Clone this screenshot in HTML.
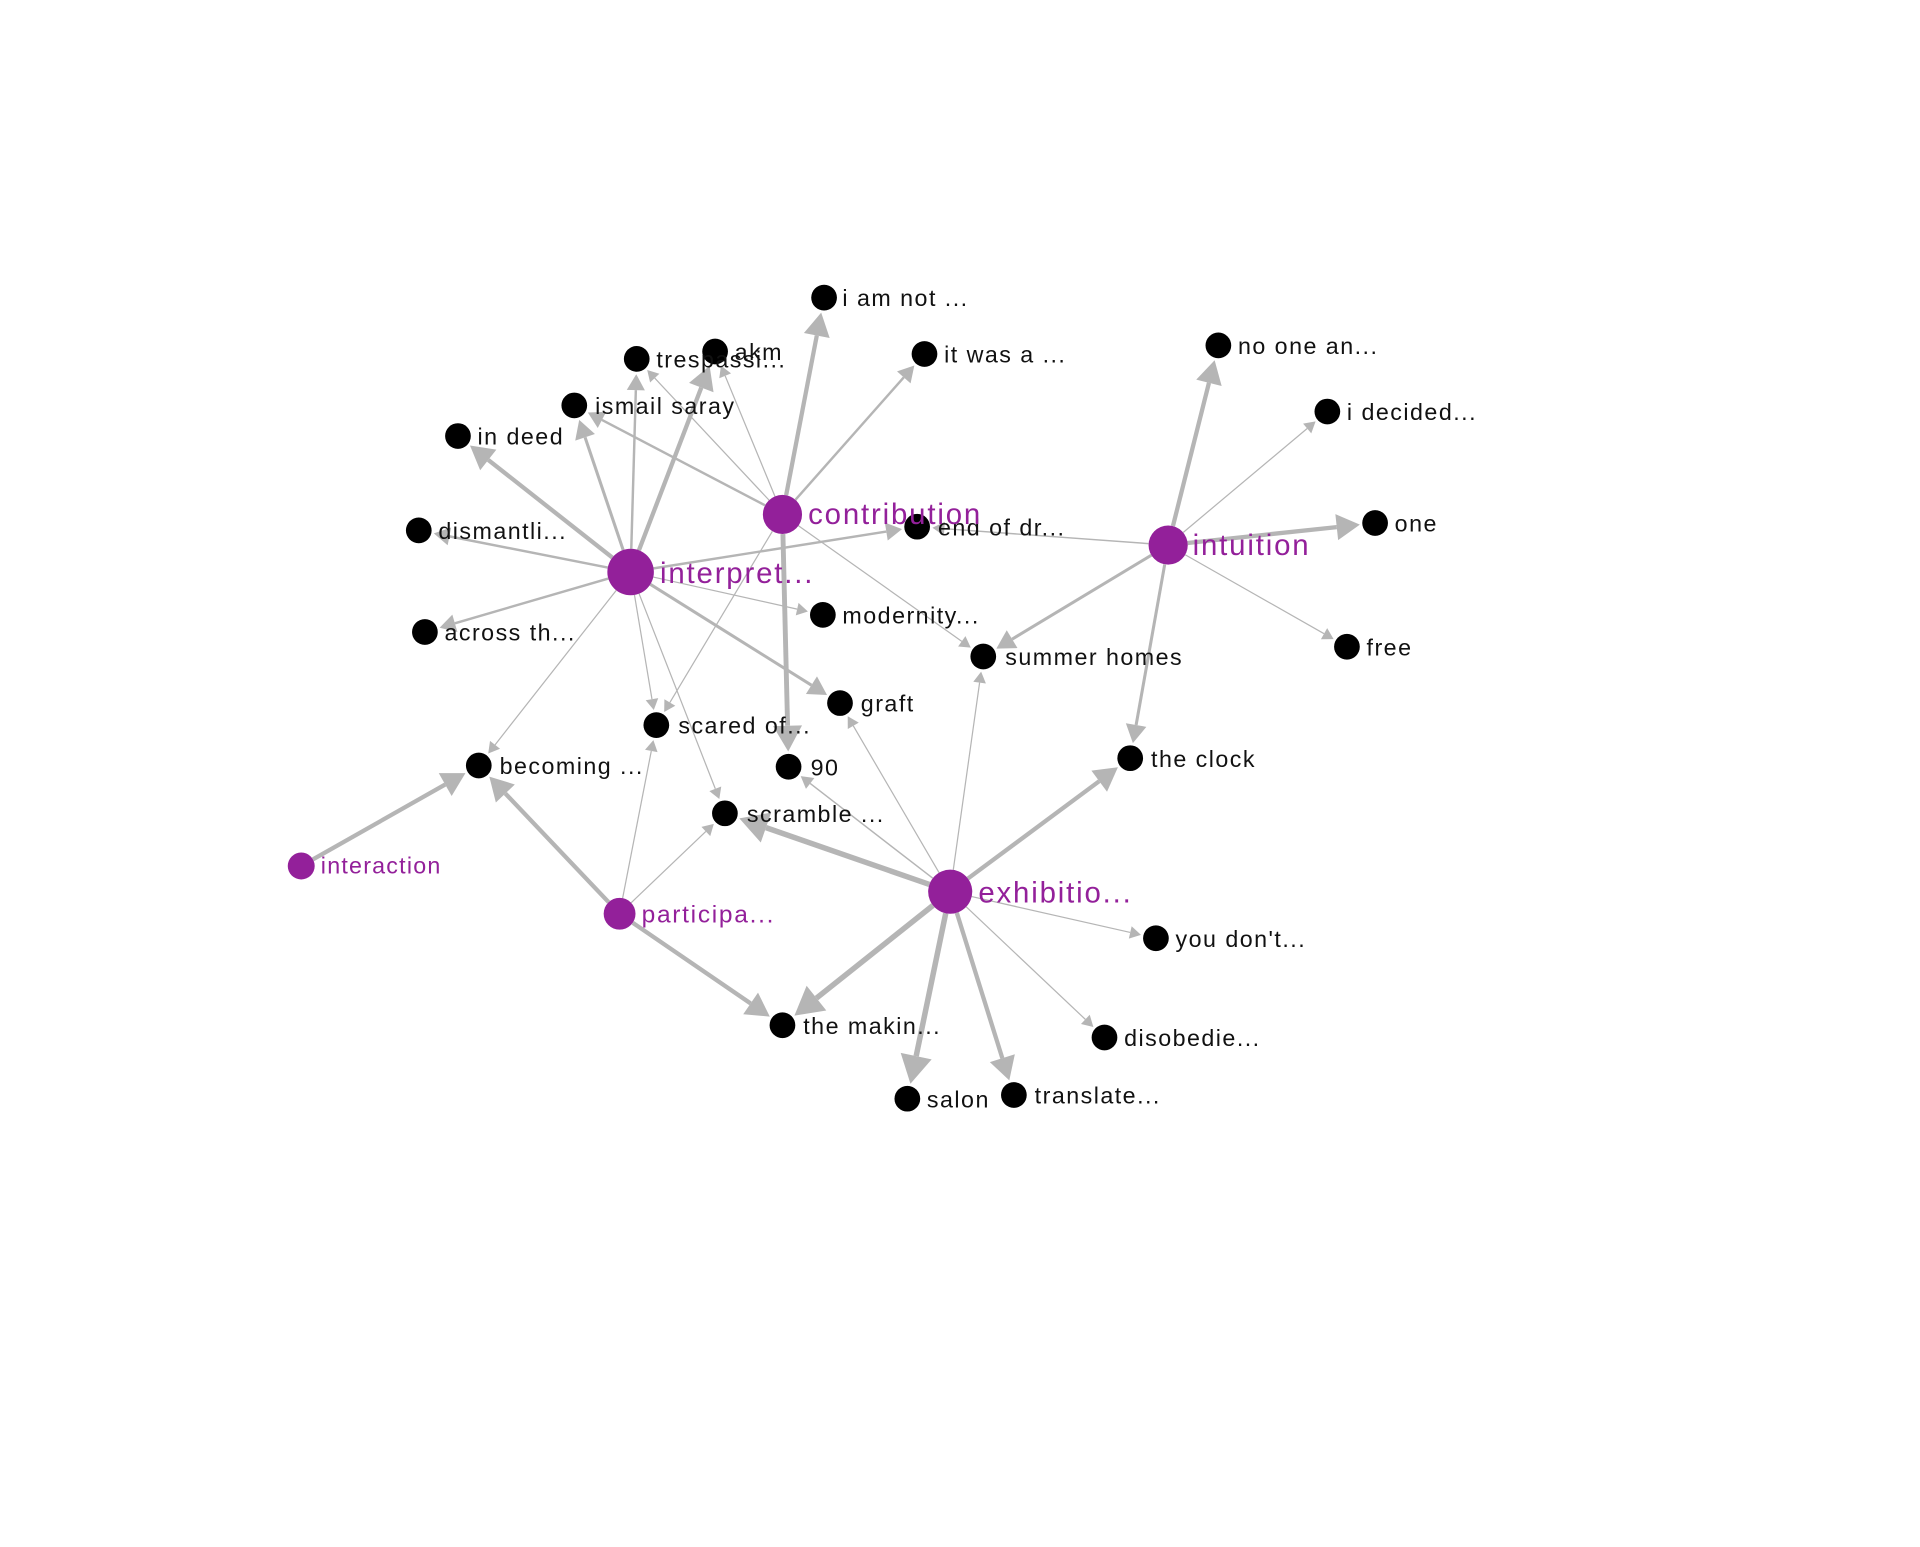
<!DOCTYPE html>
<html><head><meta charset="utf-8"><style>
html,body{margin:0;padding:0;background:#fff;width:1920px;height:1547px;overflow:hidden}
svg{display:block}
text{font-family:"Liberation Sans",sans-serif}
.b{font-size:19px;fill:#111;letter-spacing:1.2px}
.p{font-size:24px;fill:#93209a;letter-spacing:1.5px}
</style></head><body>
<svg id="s" width="1920" height="1547" viewBox="0 0 1568 1263" preserveAspectRatio="none">
<g id="edges"></g>
<g id="nodes">
<circle cx="673" cy="243" r="10.5"/><circle cx="520" cy="293" r="10.5"/><circle cx="584" cy="287" r="10.5"/>
<circle cx="755" cy="289" r="10.5"/><circle cx="469" cy="331" r="10.5"/><circle cx="374" cy="356" r="10.5"/>
<circle cx="995" cy="282" r="10.5"/><circle cx="1084" cy="336" r="10.5"/><circle cx="342" cy="433" r="10.5"/>
<circle cx="749" cy="430" r="10.5"/><circle cx="1123" cy="427" r="10.5"/><circle cx="672" cy="502" r="10.5"/>
<circle cx="347" cy="516" r="10.5"/><circle cx="803" cy="536" r="10.5"/><circle cx="1100" cy="528" r="10.5"/>
<circle cx="686" cy="574" r="10.5"/><circle cx="536" cy="592" r="10.5"/><circle cx="644" cy="626" r="10.5"/>
<circle cx="391" cy="625" r="10.5"/><circle cx="923" cy="619" r="10.5"/><circle cx="592" cy="664" r="10.5"/>
<circle cx="944" cy="766" r="10.5"/><circle cx="639" cy="837" r="10.5"/><circle cx="902" cy="847" r="10.5"/>
<circle cx="741" cy="897" r="10.5"/><circle cx="828" cy="894" r="10.5"/>
<g fill="#93209a">
<circle cx="515" cy="467" r="19"/><circle cx="639" cy="420" r="16"/><circle cx="954" cy="445" r="16"/>
<circle cx="776" cy="728" r="18"/><circle cx="506" cy="746" r="13"/><circle cx="246" cy="707" r="11"/>
</g>
</g>
<g>
<text class="b" x="688" y="250">i am not ...</text>
<text class="b" x="536" y="300">trespassi...</text>
<text class="b" x="600" y="294">akm</text>
<text class="b" x="771" y="296">it was a ...</text>
<text class="b" x="486" y="338">ismail saray</text>
<text class="b" x="390" y="363">in deed</text>
<text class="b" x="1011" y="289">no one an...</text>
<text class="b" x="1100" y="343">i decided...</text>
<text class="b" x="358" y="440">dismantli...</text>
<text class="b" x="766" y="437">end of dr...</text>
<text class="b" x="1139" y="434">one</text>
<text class="b" x="688" y="509">modernity...</text>
<text class="b" x="363" y="523">across th...</text>
<text class="b" x="821" y="543">summer homes</text>
<text class="b" x="1116" y="535">free</text>
<text class="b" x="703" y="581">graft</text>
<text class="b" x="554" y="599">scared of...</text>
<text class="b" x="662" y="633">90</text>
<text class="b" x="408" y="632">becoming ...</text>
<text class="b" x="940" y="626">the clock</text>
<text class="b" x="610" y="671">scramble ...</text>
<text class="b" x="960" y="773">you don't...</text>
<text class="b" x="656" y="844">the makin...</text>
<text class="b" x="918" y="854">disobedie...</text>
<text class="b" x="757" y="904">salon</text>
<text class="b" x="845" y="901">translate...</text>
<text class="p" x="539" y="476">interpret...</text>
<text class="p" x="660" y="428">contribution</text>
<text class="p" x="974" y="453">intuition</text>
<text class="p" x="799" y="737">exhibitio...</text>
<text class="p" x="524" y="753" style="font-size:20px;letter-spacing:1.4px">participa...</text>
<text class="p" x="262" y="713" style="font-size:19px;letter-spacing:1px">interaction</text>
</g>
</svg>
<script>
var N={ip:[515,467,19],co:[639,420,16],it:[954,445,16],ex:[776,728,18],pa:[506,746,13],ia:[246,707,11],
iam:[673,243,10.5],tr:[520,293,10.5],akm:[584,287,10.5],iw:[755,289,10.5],is:[469,331,10.5],ind:[374,356,10.5],
no:[995,282,10.5],dec:[1084,336,10.5],dis:[342,433,10.5],end:[749,430,10.5],one:[1123,427,10.5],mod:[672,502,10.5],
acr:[347,516,10.5],sum:[803,536,10.5],free:[1100,528,10.5],gr:[686,574,10.5],sc:[536,592,10.5],n90:[644,626,10.5],
bec:[391,625,10.5],clk:[923,619,10.5],scr:[592,664,10.5],you:[944,766,10.5],mak:[639,837,10.5],dsb:[902,847,10.5],
sal:[741,897,10.5],tra:[828,894,10.5]};
var E=[["ip","ind",3.5],["ip","is",2.5],["ip","tr",2],["ip","akm",3.5],["ip","dis",2],["ip","acr",2],["ip","mod",1],
["ip","gr",2.5],["ip","sc",1],["ip","scr",1],["ip","bec",1],["ip","end",2],
["co","iam",3.5],["co","iw",2],["co","tr",1],["co","is",2],["co","akm",1],["co","n90",4],["co","sum",1],["co","sc",1],
["it","end",1.2],["it","no",3.5],["it","dec",1],["it","one",3.5],["it","free",1],["it","sum",2.5],["it","clk",2.5],
["ex","clk",3.5],["ex","sum",1],["ex","gr",1],["ex","n90",1.2],["ex","scr",4.5],["ex","mak",4.5],["ex","sal",4.5],
["ex","tra",3.5],["ex","dsb",1],["ex","you",1],
["pa","bec",3.5],["pa","mak",3.5],["pa","sc",1],["pa","scr",1],["ia","bec",3.5]];
var g=document.getElementById("edges"),h="";
E.forEach(function(e){var a=N[e[0]],b=N[e[1]],w=e[2];var dx=b[0]-a[0],dy=b[1]-a[1],L=Math.hypot(dx,dy),ux=dx/L,uy=dy/L;
var tx=b[0]-ux*(b[2]+2),ty=b[1]-uy*(b[2]+2);var al=5+w*4,aw=3+w*2.2;var bx=tx-ux*al,by=ty-uy*al;
var sx=a[0]+ux*a[2],sy=a[1]+uy*a[2];
h+='<line x1="'+sx+'" y1="'+sy+'" x2="'+bx+'" y2="'+by+'" stroke="#b5b5b5" stroke-width="'+w+'"/>';
h+='<polygon fill="#b5b5b5" points="'+tx+','+ty+' '+(bx-uy*aw)+','+(by+ux*aw)+' '+(bx+uy*aw)+','+(by-ux*aw)+'"/>';});
g.innerHTML=h;
</script>
</body></html>
